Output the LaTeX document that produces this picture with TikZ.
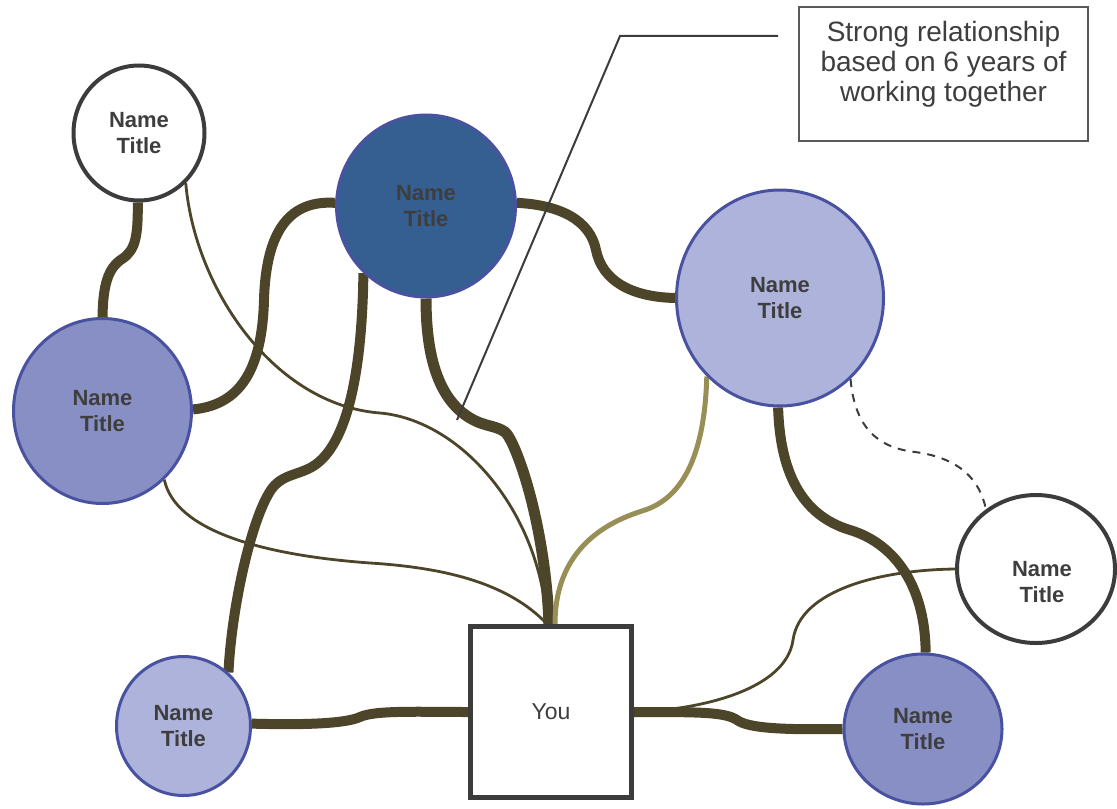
\documentclass[tikz,border=0pt]{standalone}
\usepackage{fontspec}
\setmainfont{Liberation Sans}
\usetikzlibrary{shapes.geometric,backgrounds}
\definecolor{linkbrown}{RGB}{76,69,42}
\definecolor{linktan}{RGB}{152,143,86}
\definecolor{ringblue}{RGB}{73,82,160}
\definecolor{ringgray}{RGB}{60,60,60}
\definecolor{namegray}{RGB}{62,62,62}
\definecolor{bossblue}{RGB}{53,94,145}
\definecolor{midblue}{RGB}{136,143,196}
\definecolor{paleblue}{RGB}{173,179,218}
\begin{document}
\begin{tikzpicture}[x=0.5pt,y=-0.5pt,
  nametext/.style={inner sep=0pt,align=center,text=namegray,font=\bfseries\fontsize{11}{13}\selectfont},
  person/.style={ellipse,draw=ringblue,line width=1.5pt,nametext},
  outsider/.style={person,draw=ringgray,line width=2pt,fill=white},
  selfbox/.style={rectangle,draw=ringgray,line width=2.5pt,fill=white,text=namegray,
    minimum width=80.5pt,minimum height=85.5pt,font=\fontsize{11.5}{13}\selectfont},
  notebox/.style={rectangle,draw=ringgray!85,line width=1pt,fill=white,
    minimum width=144.5pt,minimum height=67pt},
  link/.style={draw=linkbrown,line width=5pt},
  tie/.style={draw=linkbrown,line width=1.4pt},
  tan/.style={draw=linktan,line width=2.5pt},
  maybe/.style={draw=ringgray,line width=1pt,dash pattern=on 4pt off 3.5pt},
  leader/.style={draw=ringgray,line width=1pt}]
\useasboundingbox (0,0) rectangle (1117,808);
%\draw[help lines,step=50] (0,0) grid (1117,808);
\path
(139,133) node [outsider,minimum width=65.5pt,minimum height=67.5pt] (tl) {Name\\Title}
(426,206) node [person,fill=bossblue,minimum width=89.5pt,minimum height=91pt] (tc) {Name\\Title}
(102.5,411) node [person,fill=midblue,minimum width=89pt,minimum height=92.5pt] (ml) {Name\\Title}
(780,298) node [person,fill=paleblue,minimum width=103.5pt,minimum height=108pt] (mr) {Name\\Title}
(1036,569) node [outsider,minimum width=79pt,minimum height=74pt,
  label={[nametext,xshift=3pt,yshift=-6.5pt]center:Name\\Title}] (rw) {}
(183.5,726) node [person,fill=paleblue,minimum width=67pt,minimum height=69.5pt] (bl) {Name\\Title}
(923,729) node [person,fill=midblue,minimum width=79pt,minimum height=75pt] (br) {Name\\Title}
(551,712) node [selfbox] (you) {You}
(943.5,74) node [notebox] (note) {}
;
\node[anchor=north,align=center,inner sep=0pt,text=namegray,font=\fontsize{14}{15}\selectfont]
  (notetext) at ([yshift=-7.5pt]note.north) {Strong relationship\\based on 6 years of\\working together};
\begin{scope}[on background layer]
% strong ties
\draw[link] (tl.-91) .. controls (138,235) and (136,250) .. (122,259) .. controls (108,268) and (103,285) .. (ml.90);
\draw[link] (ml.1) .. controls (240,405) and (262,370) .. (264,300) .. controls (266,230) and (290,200) .. (tc.178);
\draw[link] (tc.-133) .. controls (362,380) and (345,450) .. (310,468) .. controls (296,475) and (285,475) .. (275,485) .. controls (255,505) and (232,600) .. (bl.50);
\draw[link,line width=5.5pt] (tc.-90) .. controls (426,360) and (440,400) .. (470,418) .. controls (485,427) and (495,425) .. (505,432) .. controls (515,440) and (545,520) .. ([xshift=-1pt]you.north);
\draw[link] (tc.2) .. controls (560,205) and (590,220) .. (596,250) .. controls (602,280) and (630,297) .. (mr.180);
\draw[link] (mr.-91) .. controls (780,470) and (800,515) .. (850,530) .. controls (890,542) and (925,580) .. (br.88);
\draw[link] (you.east) .. controls (700,712) and (725,712) .. (737,720) .. controls (748,728) and (780,730) .. (br.180);
\draw[link] (bl.2) .. controls (300,725) and (345,724) .. (360,717) .. controls (375,710) and (420,712) .. (you.west);
% weak ties
\draw[tie] (tl.-47) .. controls (195,290) and (275,405) .. (380,413) .. controls (460,420) and (540,510) .. ([xshift=-2pt]you.north);
\draw[tie] (ml.-48) .. controls (175,530) and (260,555) .. (370,563) .. controls (450,568) and (510,585) .. ([xshift=-2pt]you.north);
\draw[tie] (rw.180) .. controls (880,570) and (800,590) .. (793,640) .. controls (786,690) and (700,710) .. (you.east);
\draw[tan] (mr.-133) .. controls (705,440) and (690,495) .. (645,510) .. controls (620,518) and (555,540) .. ([xshift=2pt]you.north);
\draw[maybe] (mr.-49) .. controls (855,430) and (880,448) .. (915,452) .. controls (960,458) and (980,480) .. (rw.130);
\end{scope}
\coordinate (leadstart) at (778,36);
\coordinate (leadknee) at (620,36);
\coordinate (leadend) at (457,420);
\draw[leader] (leadstart) -- (leadknee) -- (leadend);
\end{tikzpicture}
\end{document}
